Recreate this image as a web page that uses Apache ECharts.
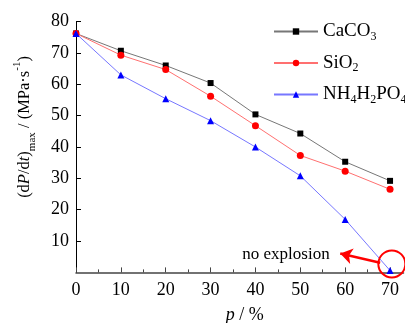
<!DOCTYPE html>
<html><head><meta charset="utf-8">
<script src="https://cdn.jsdelivr.net/npm/echarts@6/dist/echarts.min.js"></script>
<style>html,body{margin:0;padding:0;background:#fff}#c{width:405px;height:323px}</style>
</head><body><div id="c"></div>
<script>
var xValues = [0, 10, 20, 30, 40, 50, 60, 70];
var caco3 = [76.2, 70.7, 66.0, 60.4, 50.4, 44.3, 35.3, 29.2];
var sio2 = [76.2, 69.3, 64.7, 56.2, 46.8, 37.3, 32.3, 26.5];
var nh4 = [76.2, 63.0, 55.4, 48.4, 40.0, 30.8, 16.9, 0.6];
var xTicks = [0, 10, 20, 30, 40, 50, 60, 70];
var xMinorTicks = [5, 15, 25, 35, 45, 55, 65];
var yTicks = [10, 20, 30, 40, 50, 60, 70, 80];
var seriesNames = ['CaCO3', 'SiO2', 'NH4H2PO4'];
var noExplosionPoint = [70.4, 2.7];
var arrowFrom = [67.8, 3.1];
var arrowTo = [58.9, 6.0];
var labelPoint = [46.8, 5.8];

var FONT = "'Liberation Serif', 'Times New Roman', serif";
var chart = echarts.init(document.getElementById('c'), null, {renderer: 'canvas'});

function pairs(vals) { return xValues.map(function (x, i) { return [x, vals[i]]; }); }

var legendNames = {
  'CaCO3': '{n|CaCO}{s|3}',
  'SiO2': '{n|SiO}{s|2}',
  'NH4H2PO4': '{n|NH}{s|4}{n|H}{s|2}{n|PO}{s|4}'
};

var option = {
  animation: false,
  backgroundColor: '#fff',
  grid: {left: 76, right: 1.5, top: 21.6, bottom: 50.6, containLabel: false, outerBoundsMode: 'none'},
  xAxis: [{
    type: 'value', min: 0, max: 73, interval: 10,
    axisLine: {show: true, lineStyle: {color: '#444', width: 1.5}},
    axisTick: {show: true, inside: true, length: 5, customValues: xTicks, lineStyle: {color: '#444', width: 1}},
    axisLabel: {customValues: xTicks, fontFamily: FONT, fontSize: 18, color: '#000', margin: 9},
    splitLine: {show: false},
    name: '{i|p} / %',
    nameLocation: 'middle', nameGap: 34,
    nameTextStyle: {fontFamily: FONT, fontSize: 18, color: '#000', padding: [0, 0, 0, 10],
      rich: {i: {fontFamily: FONT, fontSize: 18, fontStyle: 'italic', color: '#000'}}}
  }, {
    type: 'value', min: 0, max: 73, position: 'bottom',
    axisLine: {show: false},
    axisTick: {show: true, inside: true, length: 3, customValues: xMinorTicks, lineStyle: {color: '#444', width: 1}},
    axisLabel: {show: false},
    splitLine: {show: false}
  }],
  yAxis: {
    type: 'value', min: 0, max: 80, interval: 10,
    axisLine: {show: true, lineStyle: {color: '#000', width: 1}},
    axisTick: {show: true, inside: true, length: 5, customValues: yTicks, lineStyle: {color: '#000'}},
    axisLabel: {customValues: yTicks, fontFamily: FONT, fontSize: 18, color: '#000', margin: 7},
    splitLine: {show: false}
  },
  legend: {
    left: 273, top: 22, orient: 'vertical', padding: 0,
    itemWidth: 44, itemHeight: 8, itemGap: 11,
    data: seriesNames,
    formatter: function (n) { return legendNames[n]; },
    textStyle: {
      fontFamily: FONT, fontSize: 19, color: '#000', padding: [0, 0, 0, 0],
      rich: {
        n: {fontFamily: FONT, fontSize: 19, color: '#000', lineHeight: 22, verticalAlign: 'middle'},
        s: {fontFamily: FONT, fontSize: 12, color: '#000', lineHeight: 12, verticalAlign: 'bottom'}
      }
    }
  },
  graphic: [{
    type: 'text', x: 25, y: 127, rotation: Math.PI / 2,
    style: {
      text: '{n|(d}{i|P}{n|/d}{i|t}{n|)}{s|max}{n| / (MPa·s}{p|-1}{n|)}',
      fontFamily: FONT, fontSize: 16.5, fill: '#000', align: 'center', verticalAlign: 'middle',
      rich: {
        n: {fontFamily: FONT, fontSize: 16.5, lineHeight: 26, verticalAlign: 'middle'},
        i: {fontFamily: FONT, fontSize: 16.5, fontStyle: 'italic', lineHeight: 26, verticalAlign: 'middle'},
        s: {fontFamily: FONT, fontSize: 11, lineHeight: 11, verticalAlign: 'bottom'},
        p: {fontFamily: FONT, fontSize: 11, lineHeight: 12, verticalAlign: 'top'}
      }
    }
  }],
  series: [{
    name: 'CaCO3', type: 'line', data: pairs(caco3),
    symbol: 'rect', symbolSize: 6,
    itemStyle: {color: '#000'},
    lineStyle: {color: '#777', width: 1},
    z: 3
  }, {
    name: 'SiO2', type: 'line', data: pairs(sio2),
    symbol: 'circle', symbolSize: 7,
    itemStyle: {color: '#ff0000'},
    lineStyle: {color: '#ff7070', width: 1},
    z: 3
  }, {
    name: 'NH4H2PO4', type: 'line', data: pairs(nh4),
    symbol: 'triangle', symbolSize: 7,
    itemStyle: {color: '#0000ff'},
    lineStyle: {color: '#7777ff', width: 1},
    z: 3,
    markPoint: {
      symbol: 'circle', symbolSize: 27, silent: true,
      itemStyle: {color: 'rgba(0,0,0,0)', borderColor: '#ff0000', borderWidth: 2},
      label: {show: false},
      data: [{coord: noExplosionPoint}, {
        coord: labelPoint, symbolSize: 0,
        label: {show: true, position: 'inside', formatter: 'no explosion', fontFamily: FONT, fontSize: 17, color: '#000'}
      }]
    },
    markLine: {
      silent: true, symbol: ['none', 'arrow'], symbolSize: [12, 12],
      lineStyle: {color: '#ff0000', width: 2.5, type: 'solid'},
      label: {show: false},
      data: [[{coord: arrowFrom}, {coord: arrowTo}]]
    }
  }]
};
chart.setOption(option);
</script>
</body></html>
